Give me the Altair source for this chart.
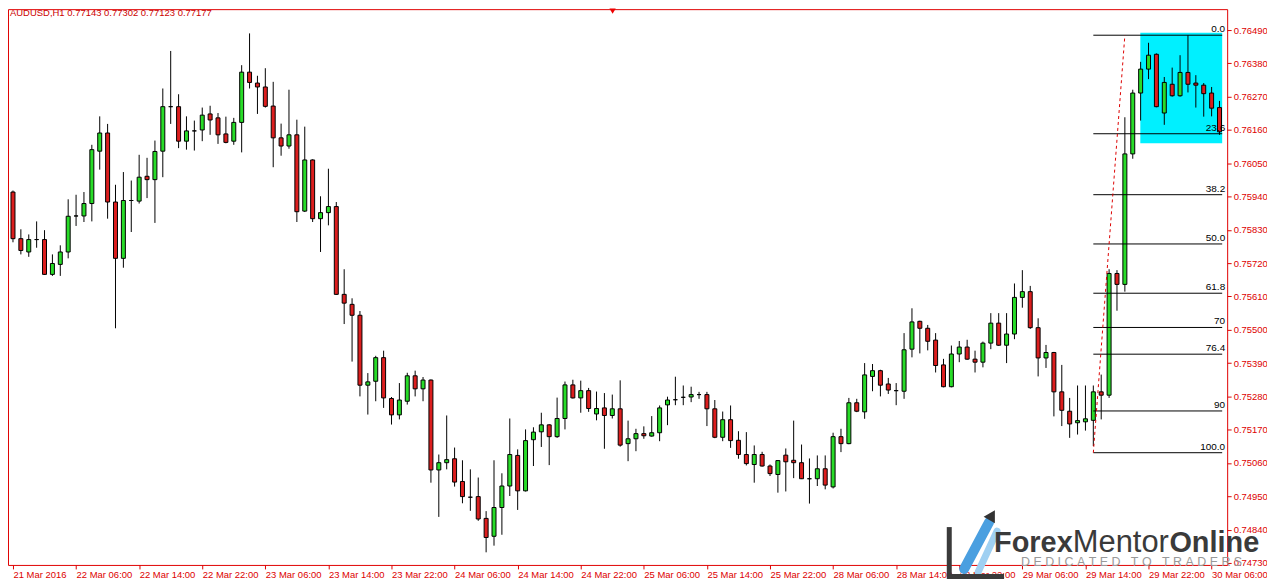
import altair as alt
import pandas as pd

# ---------------- data (AUDUSD H1) ----------------
OPEN = [0.75955, 0.75801, 0.75757, 0.75798, 0.75798, 0.75683, 0.75716, 0.75757, 0.75876, 0.75876,
        0.75917, 0.76090, 0.76150, 0.75922, 0.75736, 0.75927, 0.75925, 0.76007, 0.75996, 0.76090,
        0.76237, 0.76237, 0.76123, 0.76157, 0.76160, 0.76213, 0.76200, 0.76147, 0.76123, 0.76185,
        0.76351, 0.76315, 0.76302, 0.76239, 0.76134, 0.76107, 0.76144, 0.75892, 0.76061, 0.75867,
        0.75887, 0.75907, 0.75617, 0.75584, 0.75548, 0.75317, 0.75330, 0.75408, 0.75273, 0.75219,
        0.75264, 0.75348, 0.75305, 0.75334, 0.75037, 0.75061, 0.75074, 0.74999, 0.74947, 0.74949,
        0.74877, 0.74818, 0.74913, 0.74984, 0.75085, 0.74968, 0.75137, 0.75163, 0.75186, 0.75147,
        0.75207, 0.75318, 0.75275, 0.75299, 0.75222, 0.75242, 0.75217, 0.75239, 0.75124, 0.75140,
        0.75157, 0.75149, 0.75160, 0.75252, 0.75269, 0.75277, 0.75278, 0.75286, 0.75286, 0.75239,
        0.75145, 0.75203, 0.75135, 0.75088, 0.75055, 0.75088, 0.75050, 0.75022, 0.75086, 0.75069,
        0.75061, 0.75008, 0.75008, 0.75041, 0.74981, 0.75147, 0.75124, 0.75259, 0.75229, 0.75346,
        0.75365, 0.75321, 0.75299, 0.75297, 0.75436, 0.75528, 0.75505, 0.75466, 0.75384, 0.75312,
        0.75420, 0.75443, 0.75403, 0.75393, 0.75456, 0.75522, 0.75449, 0.75486, 0.75607, 0.75626,
        0.75507, 0.75407, 0.75425, 0.75295, 0.75231, 0.75193, 0.75196, 0.75201, 0.75295, 0.75284,
        0.75686, 0.75650, 0.76081, 0.76282, 0.76361, 0.76410, 0.76216, 0.76311, 0.76273, 0.76350,
        0.76315, 0.76308, 0.76282, 0.76234]
HIGH = [0.75960, 0.75832, 0.75815, 0.75858, 0.75829, 0.75749, 0.75779, 0.75931, 0.75946, 0.75955,
        0.76111, 0.76205, 0.76180, 0.75979, 0.76021, 0.75993, 0.76078, 0.76068, 0.76125, 0.76297,
        0.76421, 0.76278, 0.76205, 0.76191, 0.76234, 0.76240, 0.76216, 0.76204, 0.76200, 0.76374,
        0.76479, 0.76339, 0.76364, 0.76319, 0.76181, 0.76293, 0.76194, 0.76171, 0.76063, 0.75941,
        0.76032, 0.75922, 0.75700, 0.75604, 0.75562, 0.75357, 0.75414, 0.75431, 0.75278, 0.75324,
        0.75358, 0.75365, 0.75344, 0.75336, 0.75088, 0.75217, 0.75111, 0.75069, 0.75039, 0.75012,
        0.74901, 0.75069, 0.75026, 0.75207, 0.75105, 0.75171, 0.75178, 0.75226, 0.75188, 0.75276,
        0.75329, 0.75335, 0.75332, 0.75308, 0.75296, 0.75291, 0.75286, 0.75333, 0.75200, 0.75173,
        0.75181, 0.75215, 0.75250, 0.75279, 0.75345, 0.75316, 0.75312, 0.75295, 0.75295, 0.75268,
        0.75230, 0.75250, 0.75165, 0.75162, 0.75118, 0.75097, 0.75055, 0.75069, 0.75108, 0.75200,
        0.75121, 0.75075, 0.75085, 0.75085, 0.75160, 0.75173, 0.75275, 0.75272, 0.75390, 0.75387,
        0.75368, 0.75341, 0.75324, 0.75489, 0.75571, 0.75530, 0.75516, 0.75489, 0.75404, 0.75448,
        0.75463, 0.75467, 0.75431, 0.75461, 0.75555, 0.75555, 0.75555, 0.75653, 0.75697, 0.75645,
        0.75538, 0.75450, 0.75427, 0.75384, 0.75275, 0.75316, 0.75316, 0.75316, 0.75352, 0.75700,
        0.75697, 0.76202, 0.76293, 0.76385, 0.76448, 0.76413, 0.76335, 0.76366, 0.76407, 0.76473,
        0.76341, 0.76315, 0.76302, 0.76256]
LOW = [0.75789, 0.75749, 0.75741, 0.75771, 0.75681, 0.75678, 0.75678, 0.75736, 0.75843, 0.75856,
       0.75858, 0.76029, 0.75867, 0.75505, 0.75705, 0.75823, 0.75917, 0.75935, 0.75853, 0.76004,
       0.76180, 0.76100, 0.76095, 0.76092, 0.76123, 0.76144, 0.76114, 0.76116, 0.76111, 0.76086,
       0.76297, 0.76213, 0.76234, 0.76037, 0.76075, 0.76098, 0.75856, 0.75889, 0.75856, 0.75757,
       0.75845, 0.75615, 0.75519, 0.75395, 0.75280, 0.75220, 0.75264, 0.75242, 0.75187, 0.75204,
       0.75253, 0.75280, 0.75264, 0.74995, 0.74882, 0.75039, 0.74982, 0.74927, 0.74902, 0.74869,
       0.74765, 0.74787, 0.74823, 0.74951, 0.74905, 0.74966, 0.75050, 0.75113, 0.75053, 0.75143,
       0.75171, 0.75273, 0.75226, 0.75229, 0.75201, 0.75107, 0.75207, 0.75114, 0.75066, 0.75099,
       0.75140, 0.75147, 0.75132, 0.75185, 0.75251, 0.75251, 0.75261, 0.75272, 0.75182, 0.75142,
       0.75132, 0.75110, 0.75074, 0.75052, 0.74995, 0.75048, 0.75017, 0.74962, 0.74966, 0.75010,
       0.75007, 0.74926, 0.74984, 0.74973, 0.74976, 0.75096, 0.75122, 0.75228, 0.75206, 0.75297,
       0.75280, 0.75288, 0.75251, 0.75272, 0.75409, 0.75422, 0.75432, 0.75359, 0.75310, 0.75310,
       0.75393, 0.75401, 0.75359, 0.75376, 0.75436, 0.75447, 0.75390, 0.75469, 0.75573, 0.75503,
       0.75346, 0.75374, 0.75214, 0.75182, 0.75143, 0.75154, 0.75167, 0.75116, 0.75204, 0.75275,
       0.75563, 0.75626, 0.76065, 0.76191, 0.76328, 0.76235, 0.76177, 0.76270, 0.76270, 0.76284,
       0.76234, 0.76204, 0.76205, 0.76144]
CLOSE = [0.75801, 0.75762, 0.75798, 0.75798, 0.75683, 0.75719, 0.75757, 0.75875, 0.75876, 0.75917,
         0.76095, 0.76150, 0.75922, 0.75736, 0.75927, 0.75927, 0.76004, 0.75996, 0.76089, 0.76237,
         0.76237, 0.76123, 0.76157, 0.76157, 0.76209, 0.76193, 0.76144, 0.76119, 0.76185, 0.76351,
         0.76317, 0.76302, 0.76238, 0.76134, 0.76107, 0.76144, 0.75890, 0.76061, 0.75867, 0.75887,
         0.75907, 0.75617, 0.75588, 0.75548, 0.75317, 0.75328, 0.75408, 0.75275, 0.75219, 0.75268,
         0.75348, 0.75305, 0.75334, 0.75037, 0.75061, 0.75071, 0.74997, 0.74949, 0.74947, 0.74875,
         0.74814, 0.74913, 0.74984, 0.75088, 0.74968, 0.75134, 0.75162, 0.75186, 0.75147, 0.75207,
         0.75318, 0.75275, 0.75299, 0.75240, 0.75240, 0.75217, 0.75239, 0.75119, 0.75140, 0.75157,
         0.75150, 0.75160, 0.75242, 0.75268, 0.75269, 0.75277, 0.75286, 0.75286, 0.75239, 0.75145,
         0.75203, 0.75134, 0.75088, 0.75058, 0.75088, 0.75050, 0.75025, 0.75068, 0.75064, 0.75061,
         0.75008, 0.75008, 0.75041, 0.74987, 0.75147, 0.75124, 0.75259, 0.75231, 0.75351, 0.75365,
         0.75317, 0.75301, 0.75299, 0.75434, 0.75526, 0.75505, 0.75462, 0.75382, 0.75312, 0.75420,
         0.75443, 0.75403, 0.75393, 0.75456, 0.75522, 0.75449, 0.75486, 0.75607, 0.75626, 0.75507,
         0.75407, 0.75425, 0.75295, 0.75234, 0.75189, 0.75200, 0.75206, 0.75295, 0.75284, 0.75686,
         0.75650, 0.76081, 0.76282, 0.76361, 0.76407, 0.76237, 0.76317, 0.76273, 0.76350, 0.76311,
         0.76308, 0.76280, 0.76232, 0.76154]

TIME_LABELS = ["21 Mar 2016", "22 Mar 06:00", "22 Mar 14:00", "22 Mar 22:00", "23 Mar 06:00",
               "23 Mar 14:00", "23 Mar 22:00", "24 Mar 06:00", "24 Mar 14:00", "24 Mar 22:00",
               "25 Mar 06:00", "25 Mar 14:00", "25 Mar 22:00", "28 Mar 06:00", "28 Mar 14:00",
               "28 Mar 22:00", "29 Mar 06:00", "29 Mar 14:00", "29 Mar 22:00", "30 Mar 06:00"]
PRICE_TICKS = [0.74730, 0.74840, 0.74950, 0.75060, 0.75170, 0.75280, 0.75390, 0.75500, 0.75610,
               0.75720, 0.75830, 0.75940, 0.76050, 0.76160, 0.76270, 0.76380, 0.76490]

HEADER = "AUDUSD,H1  0.77143 0.77302 0.77123 0.77177"

# Fibonacci retracement drawn on the chart
FIB_HIGH = 0.76473
FIB_LOW = 0.75094
FIB_START_BAR = 137
FIB_END_BAR = 141
FIB_RATIOS = [0.0, 23.6, 38.2, 50.0, 61.8, 70.0, 76.4, 90.0, 100.0]
FIB_TEXT = ["0.0", "23.6", "38.2", "50.0", "61.8", "70", "76.4", "90", "100.0"]

# cyan consolidation box
BOX_BARS = [142.96, 153.34]
BOX_PRICES = [0.76116, 0.76481]

# ---------------- build ----------------
FONT = "Liberation Sans"
RED = "#dd0000"
X_DOMAIN = [0, 153.34]
Y_DOMAIN = [0.747233, 0.765591]

df = pd.DataFrame({"i": list(range(len(OPEN))), "o": OPEN, "h": HIGH, "l": LOW, "c": CLOSE})
df["dir"] = ["up" if c > o else ("down" if c < o else "doji") for o, c in zip(OPEN, CLOSE)]

xs = alt.Scale(domain=X_DOMAIN, nice=False, zero=False)
ys = alt.Scale(domain=Y_DOMAIN, nice=False, zero=False)

label_arr = "[" + ",".join("'" + t + "'" for t in TIME_LABELS) + "]"
x_axis = alt.Axis(values=[8 * k for k in range(len(TIME_LABELS))],
                  labelExpr=label_arr + "[round(datum.value/8)]",
                  orient="bottom", domain=False, grid=False, ticks=True, tickSize=4,
                  tickColor=RED, labelColor=RED, labelFont=FONT, labelFontSize=9.5,
                  labelAlign="left", labelPadding=1, labelFlush=False, labelOverlap=False,
                  labelBound=False, title=None)
y_axis = alt.Axis(values=PRICE_TICKS, format=".5f", orient="right", domain=False, grid=False,
                  tickSize=4, tickColor=RED, labelColor=RED, labelFont=FONT, labelFontSize=9.5,
                  labelPadding=2, labelOverlap=False, labelBound=False, title=None)


def X(field):
    return alt.X(field, scale=xs, axis=x_axis, title=None)


def Y(field):
    return alt.Y(field, scale=ys, axis=y_axis, title=None)


base = alt.Chart(df)

wicks = base.mark_rule(color="black", strokeWidth=1, clip=True).encode(
    x=X("i:Q"), y=Y("l:Q"), y2="h:Q")
bodies = base.mark_bar(size=4, stroke="black", strokeWidth=1, clip=True).encode(
    x=X("i:Q"), y=Y("o:Q"), y2="c:Q",
    fill=alt.Fill("dir:N", scale=alt.Scale(domain=["up", "down", "doji"],
                                           range=["#28dc28", "#dc1e1e", "black"]), legend=None),
)

box = alt.Chart(pd.DataFrame({"x0": [BOX_BARS[0]], "x1": [BOX_BARS[1]],
                              "p0": [BOX_PRICES[0]], "p1": [BOX_PRICES[1]]})).mark_rect(
    color="#00f0ff", clip=True).encode(x=X("x0:Q"), x2="x1:Q", y=Y("p0:Q"), y2="p1:Q")

fib_df = pd.DataFrame({
    "txt": FIB_TEXT,
    "p": [FIB_HIGH - r / 100.0 * (FIB_HIGH - FIB_LOW) for r in FIB_RATIOS],
    "x0": [FIB_START_BAR] * len(FIB_RATIOS),
    "x1": [X_DOMAIN[1]] * len(FIB_RATIOS),
})
fib_lines = alt.Chart(fib_df).mark_rule(color="black", strokeWidth=1, clip=True).encode(
    x=X("x0:Q"), x2="x1:Q", y=Y("p:Q"))
fib_labels = alt.Chart(fib_df).mark_text(align="right", baseline="middle", dy=-6,
                                         font=FONT, fontSize=10, color="black").encode(
    x=alt.value(1222), y=Y("p:Q"), text="txt:N")

trend = alt.Chart(pd.DataFrame({"x0": [FIB_START_BAR], "x1": [FIB_END_BAR],
                                "p0": [FIB_LOW], "p1": [FIB_HIGH]})).mark_rule(
    color="#dd0000", strokeWidth=1, strokeDash=[3, 3], clip=True).encode(
    x=X("x0:Q"), x2="x1:Q", y=Y("p0:Q"), y2="p1:Q")

header = alt.Chart(pd.DataFrame({"t": [HEADER]})).mark_text(
    align="left", baseline="middle", font=FONT, fontSize=9.5, color="#cc0000").encode(
    x=alt.value(2), y=alt.value(4), text="t:N")

one = pd.DataFrame({"k": [0]})
shift_marker = alt.Chart(one).mark_point(shape="triangle-down", filled=True, color="#ee0000",
                                          size=40, opacity=1).encode(
    x=alt.value(607), y=alt.value(2))

# watermark logo
logo_L1 = alt.Chart(one).mark_rule(color="#3a3a3a", strokeWidth=5).encode(
    x=alt.value(945), y=alt.value(520), y2=alt.value(572))
logo_L2 = alt.Chart(one).mark_rule(color="#3a3a3a", strokeWidth=5).encode(
    x=alt.value(943), x2=alt.value(1000), y=alt.value(569.5))
logo_s1 = alt.Chart(one).mark_rule(color="#4a9fe0", strokeWidth=10, strokeCap="round").encode(
    x=alt.value(960), x2=alt.value(985), y=alt.value(562), y2=alt.value(515))
logo_s2 = alt.Chart(one).mark_rule(color="#9fd0f2", strokeWidth=7, strokeCap="round").encode(
    x=alt.value(974), x2=alt.value(993), y=alt.value(565), y2=alt.value(524))
logo_arrow = alt.Chart(one).mark_point(shape="triangle-up", filled=True, color="#333333",
                                        size=170, angle=30, opacity=1).encode(
    x=alt.value(988), y=alt.value(508))
logo_forex = alt.Chart(pd.DataFrame({"t": ["Forex"]})).mark_text(
    align="left", baseline="alphabetic", font=FONT, fontSize=29, fontWeight="bold",
    color="#3a3a3a").encode(x=alt.value(990), y=alt.value(545), text="t:N")
logo_mentor = alt.Chart(pd.DataFrame({"t": ["Mentor"]})).mark_text(
    align="left", baseline="alphabetic", font=FONT, fontSize=31, fontWeight="normal",
    color="#3a3a3a").encode(x=alt.value(1069), y=alt.value(545), text="t:N")
logo_online = alt.Chart(pd.DataFrame({"t": ["Online"]})).mark_text(
    align="left", baseline="alphabetic", font=FONT, fontSize=29, fontWeight="bold",
    color="#3a3a3a").encode(x=alt.value(1166), y=alt.value(545), text="t:N")
NB = "\u00a0"
TAG = NB.join("DEDICATED") + NB * 3 + NB.join("TO") + NB * 3 + NB.join("TRADERS")
logo_tag = alt.Chart(pd.DataFrame({"t": [TAG]})).mark_text(
    align="left", baseline="middle", font=FONT, fontSize=12.5, color="#999999").encode(
    x=alt.value(1017), y=alt.value(555), text="t:N")

chart = alt.layer(
    box, wicks, bodies, fib_lines, trend, fib_labels, header, shift_marker,
    logo_s1, logo_s2, logo_arrow, logo_L1, logo_L2, logo_forex, logo_mentor, logo_online, logo_tag,
).properties(
    width=1224, height=558,
    padding={"left": 0, "top": 0, "right": 40, "bottom": 21},
    autosize=alt.AutoSizeParams(type="none"),
    background="white",
).configure_view(stroke="#e00000", strokeWidth=1)

chart.save("out.html", embed_options={"renderer": "svg", "actions": False})
